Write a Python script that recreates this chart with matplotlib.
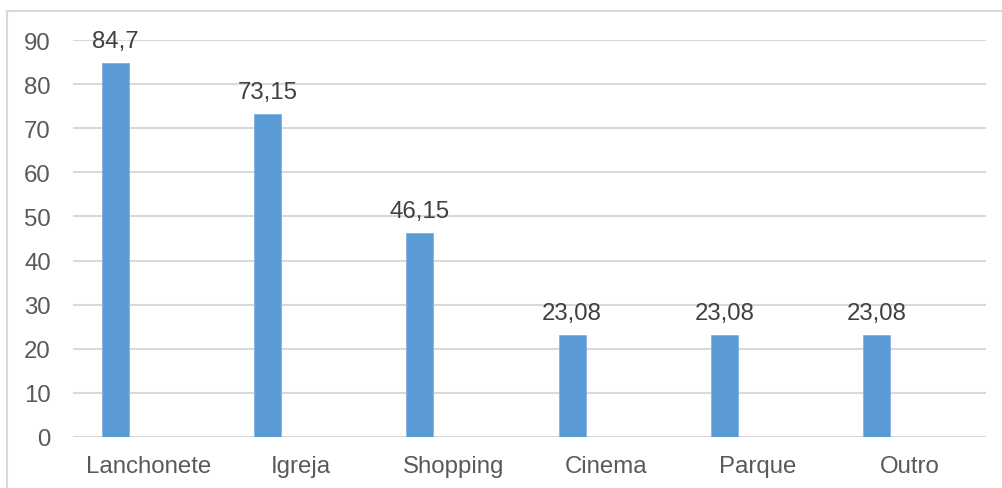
import matplotlib
matplotlib.use('Agg')
import matplotlib.pyplot as plt
from matplotlib.patches import Rectangle

# Data
categories = ['Lanchonete', 'Igreja', 'Shopping', 'Cinema', 'Parque', 'Outro']
values = [84.7, 73.15, 46.15, 23.08, 23.08, 23.08]
value_labels = ['84,7', '73,15', '46,15', '23,08', '23,08', '23,08']
y_ticks = [0, 10, 20, 30, 40, 50, 60, 70, 80, 90]

plt.rcParams['font.family'] = ['Liberation Sans', 'DejaVu Sans']

W, H = 1003, 489
fig = plt.figure(figsize=(W / 100, H / 100), dpi=100)

# light outer frame of the chart area
fig.patches.append(Rectangle((7 / W, -0.1), 1.2, 1 - 12 / H + 0.1,
                             transform=fig.transFigure, fill=False,
                             edgecolor='#d9d9d9', linewidth=1.5))

ax = fig.add_axes([73 / W, (H - 438) / H, (986 - 73) / W, (438 - 41) / H])

x = list(range(len(categories)))
bar_x = [i - 0.22 for i in x]
ax.bar(bar_x, values, width=0.178, color='#5b9bd5', edgecolor='#7fb2e0',
       linewidth=0.6, zorder=3)

for bx, v, lab in zip(bar_x, values, value_labels):
    ax.annotate(lab, (bx, v), xytext=(0, 8), textcoords='offset points',
                ha='center', va='bottom', fontsize=17.3, color='#404040')

ax.set_xlim(-0.5, len(categories) - 0.5)
ax.set_ylim(0, 90)
ax.set_yticks(y_ticks)
ax.set_yticklabels([str(t) for t in y_ticks])
ax.set_xticks(x)
ax.set_xticklabels(categories)
ax.tick_params(axis='both', length=0, labelsize=17.3, labelcolor='#595959')
ax.tick_params(axis='y', pad=16)
ax.tick_params(axis='x', pad=13)

ax.grid(axis='y', color='#d9d9d9', linewidth=1.5, zorder=0)
ax.set_axisbelow(True)
for s in ax.spines.values():
    s.set_visible(False)

fig.savefig('out.png', dpi=100)
